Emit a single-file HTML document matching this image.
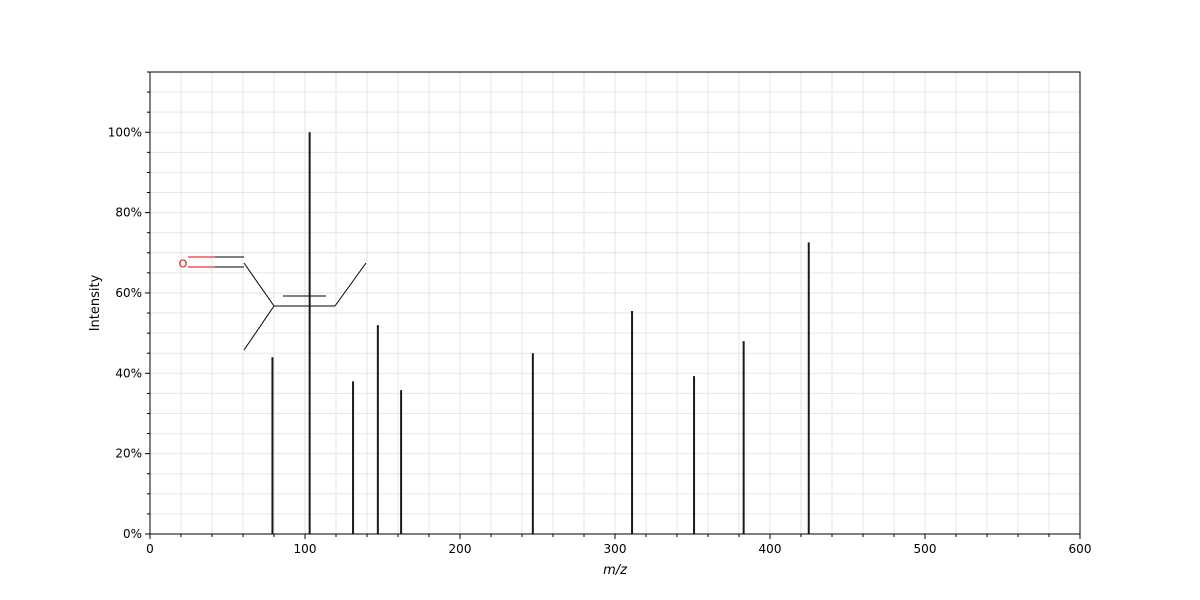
<!DOCTYPE html>
<html><head><meta charset="utf-8"><style>
body{margin:0;background:#fff;}
svg{display:block;font-family:"DejaVu Sans","Liberation Sans",sans-serif;}
</style></head><body>
<svg id="chart" width="1200" height="600">
<g id="grid"></g>
<g id="molecule" stroke="#000" stroke-width="1" fill="none">
<line x1="188" y1="257" x2="215" y2="257" stroke="#e00"/>
<line x1="215" y1="257" x2="244" y2="257"/>
<line x1="188" y1="267" x2="215" y2="267" stroke="#e00"/>
<line x1="215" y1="267" x2="244" y2="267"/>
<line x1="244" y1="263" x2="274" y2="306"/>
<line x1="274" y1="306" x2="244" y2="350"/>
<line x1="274" y1="306" x2="335" y2="306"/>
<line x1="283" y1="296" x2="326" y2="296"/>
<line x1="335" y1="306" x2="366" y2="263"/>
<text x="183" y="267.5" fill="#e00" stroke="none" font-size="11" text-anchor="middle">O</text>
</g>
<g id="peaks"></g>
<g id="axes"></g>
</svg>
<script>
const mzValues=[79,103,131,147,162,247,311,351,383,425];
const intensities=[44,100,38,52,35.8,45,55.5,39.3,48,72.6];
const xTicks=[0,100,200,300,400,500,600];
const yTicks=[0,20,40,60,80,100];
const L=150,R=1080,T=72,B=534,XMAX=600,YMAX=115;
const NS="http://www.w3.org/2000/svg";
function sx(v){return L+(v/XMAX)*(R-L);}
function sy(v){return B-(v/YMAX)*(B-T);}
function mk(tag,attrs,parent){const e=document.createElementNS(NS,tag);for(const k in attrs)e.setAttribute(k,attrs[k]);parent.appendChild(e);return e;}
const grid=document.getElementById('grid'),peaks=document.getElementById('peaks'),axes=document.getElementById('axes');
for(let v=0;v<=XMAX;v+=20){const l=mk('line',{x1:sx(v),x2:sx(v),y1:T,y2:B,stroke:'#e6e6e6','stroke-width':1},grid);

}
for(let v=0;v<=YMAX;v+=5){const l=mk('line',{x1:L,x2:R,y1:sy(v),y2:sy(v),stroke:'#e6e6e6','stroke-width':1},grid);

}
mzValues.forEach((m,i)=>{const l=mk('line',{x1:sx(m),x2:sx(m),y1:B,y2:sy(intensities[i]),stroke:'#1a1a1a','stroke-width':2},peaks);

});
const fr=mk('rect',{x:L,y:T,width:R-L,height:B-T,fill:'none',stroke:'#000','stroke-width':1},axes);


for(let v=0;v<=XMAX;v+=20){mk('line',{x1:sx(v),x2:sx(v),y1:B,y2:B+(v%100==0?5:3),stroke:'#000'},axes);}
for(let v=0;v<=YMAX;v+=5){mk('line',{x1:L,x2:L-(v%20==0?5:3),y1:sy(v),y2:sy(v),stroke:'#000'},axes);}
xTicks.forEach(v=>{const t=mk('text',{x:sx(v),y:B+19,'font-size':12,'text-anchor':'middle',fill:'#000'},axes);t.textContent=v;

});
yTicks.forEach(v=>{const t=mk('text',{x:L-8,y:sy(v)+4,'font-size':12,'text-anchor':'end',fill:'#000'},axes);t.textContent=v+'%';

});
const xt=mk('text',{x:(L+R)/2,y:574,'font-size':13,'text-anchor':'middle','font-style':'italic'},axes);xt.textContent='m/z';


const yt=mk('text',{x:99,y:(T+B)/2,'font-size':13,'text-anchor':'middle',transform:'rotate(-90 99 '+((T+B)/2)+')'},axes);yt.textContent='Intensity';


</script>
</body></html>
